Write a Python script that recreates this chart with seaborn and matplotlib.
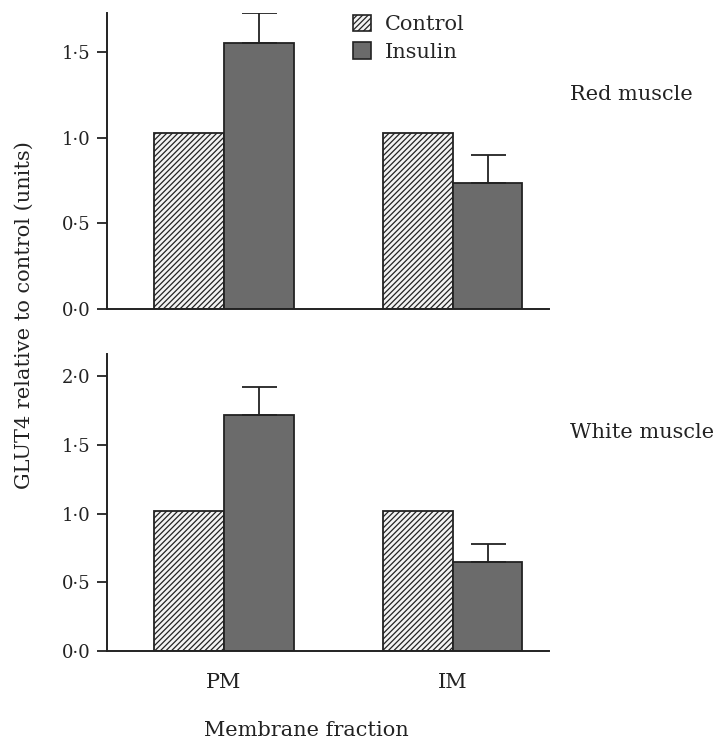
import matplotlib
matplotlib.use("Agg")
import matplotlib.pyplot as plt
import matplotlib.patches as mpatches
from matplotlib.ticker import FuncFormatter
import pandas as pd
import seaborn as sns

# GLUT4 content relative to control, per membrane fraction
fractions = ["PM", "IM"]
treatments = ["Control", "Insulin"]
red_control = [1.03, 1.03]
red_insulin = [1.555, 0.735]
red_insulin_err = [0.175, 0.165]
white_control = [1.02, 1.02]
white_insulin = [1.715, 0.645]
white_insulin_err = [0.21, 0.135]

sns.set_theme(style="ticks")
plt.rcParams["font.family"] = ["DejaVu Serif", "Liberation Serif"]
plt.rcParams["hatch.linewidth"] = 0.9
plt.rcParams["hatch.color"] = "#333333"

INK = "#222222"
fig = plt.figure(figsize=(7.23, 7.42), dpi=100)
ax_top = fig.add_axes([0.148, 0.5836, 0.611, 0.399])
ax_bot = fig.add_axes([0.148, 0.1226, 0.611, 0.400])

fill = {"Control": "#f2f2f2", "Insulin": "#6b6b6b"}


def panel(ax, control, insulin, insulin_err, ymax, ticks, label, label_y):
    df = pd.DataFrame({
        "fraction": fractions * 2,
        "treatment": ["Control"] * len(fractions) + ["Insulin"] * len(fractions),
        "value": list(control) + list(insulin),
    })
    sns.barplot(data=df, x="fraction", y="value", hue="treatment",
                order=fractions, hue_order=treatments, palette=fill,
                width=0.61, gap=0, errorbar=None, saturation=1,
                edgecolor=INK, linewidth=1.3, ax=ax, legend=False)
    bars = [p for p in ax.patches if isinstance(p, mpatches.Rectangle)]
    control_bars = bars[:len(fractions)]
    insulin_bars = bars[len(fractions):]
    for p in control_bars:
        p.set_hatch("//////")
    xs = [p.get_x() + p.get_width() / 2 for p in insulin_bars]
    ax.errorbar(xs, insulin, yerr=[[0] * len(insulin), insulin_err],
                fmt="none", ecolor=INK, elinewidth=1.3,
                capsize=12.6, capthick=1.3, zorder=1)
    ax.set_ylim(0, ymax)
    ax.set_xlim(-0.51, 1.42)
    ax.set_yticks(ticks)
    ax.yaxis.set_major_formatter(FuncFormatter(lambda v, _: f"{v:.1f}".replace(".", "\u00b7")))
    ax.tick_params(axis="y", length=7, width=1.3, labelsize=13, pad=5, colors=INK)
    ax.tick_params(axis="x", length=0, labelsize=15, pad=16, colors=INK)
    ax.set_xlabel("")
    ax.set_ylabel("")
    for side in ("top", "right"):
        ax.spines[side].set_visible(False)
    for side in ("left", "bottom"):
        ax.spines[side].set_linewidth(1.4)
        ax.spines[side].set_color(INK)
    fig.text(0.788, label_y, label, fontsize=15, color=INK, va="center", ha="left")


panel(ax_top, red_control, red_insulin, red_insulin_err, 1.73, [0.0, 0.5, 1.0, 1.5],
      "Red muscle", 1 - 94 / 742)
panel(ax_bot, white_control, white_insulin, white_insulin_err, 2.16,
      [0.0, 0.5, 1.0, 1.5, 2.0], "White muscle", 1 - 432 / 742)
ax_top.set_xticklabels([])

handles = [mpatches.Patch(facecolor=fill["Control"], edgecolor=INK, hatch="//////", linewidth=1.2),
           mpatches.Patch(facecolor=fill["Insulin"], edgecolor=INK, linewidth=1.2)]
fig.legend(handles, treatments, loc="upper left", bbox_to_anchor=(0.468, 1.0),
           frameon=False, fontsize=15, handlelength=0.85, handleheight=0.85,
           handletextpad=0.7, labelspacing=0.4, borderpad=0.2)

fig.text(0.424, 1 - 731 / 742, "Membrane fraction", fontsize=15, color=INK,
         ha="center", va="center")
fig.text(0.034, 1 - 315 / 742, "GLUT4 relative to control (units)", fontsize=15,
         color=INK, rotation=90, ha="center", va="center")

fig.savefig("out.png", dpi=100)
